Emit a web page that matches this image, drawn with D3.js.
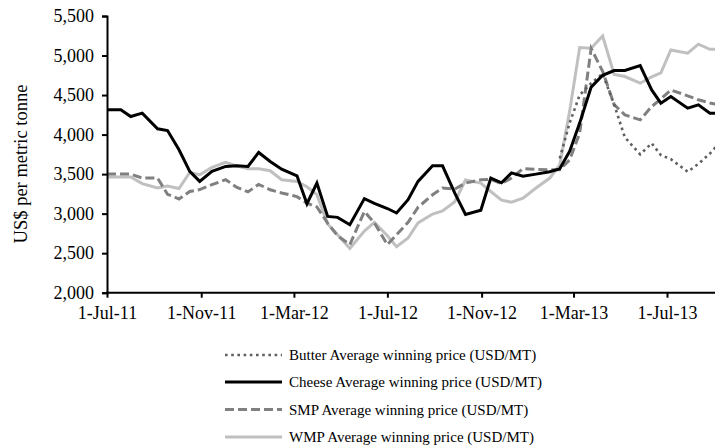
<!DOCTYPE html>
<html>
<head>
<meta charset="utf-8">
<script src="https://cdn.jsdelivr.net/npm/d3@7"></script>
<style>
  html, body { margin: 0; padding: 0; background: #fff; }
  svg { display: block; }
  text { font-family: "Liberation Serif", "Times New Roman", serif; fill: #000; }
</style>
</head>
<body>
<svg id="chart" width="715" height="446"></svg>
<script>
const dates = [
  "2011-07-01","2011-07-19","2011-08-01","2011-08-16","2011-09-05","2011-09-18","2011-10-03","2011-10-17","2011-10-30","2011-11-15",
  "2011-12-03","2011-12-17","2012-01-01","2012-01-15","2012-01-30","2012-02-14","2012-03-05","2012-03-18","2012-03-31","2012-04-14",
  "2012-04-27","2012-05-13","2012-06-01","2012-06-14","2012-07-01","2012-07-13","2012-07-28","2012-08-10","2012-08-29","2012-09-11",
  "2012-09-27","2012-10-11","2012-10-31","2012-11-13","2012-11-27","2012-12-10","2012-12-25","2013-01-11","2013-01-29","2013-02-11",
  "2013-02-24","2013-03-09","2013-03-24","2013-04-08","2013-04-23","2013-05-07","2013-05-27","2013-06-11","2013-06-23","2013-07-06",
  "2013-07-28","2013-08-11","2013-08-26","2013-09-08"
];
const butter = [
  null,null,null,null,null,null,null,null,null,null,
  null,null,null,null,null,null,null,null,null,null,
  null,null,null,null,null,null,null,null,null,null,
  null,null,null,null,null,null,null,null,null,3700,
  4150,4500,4650,4770,4380,3965,3750,3890,3740,3690,
  3530,3630,3760,3900
];
const cheese = [
  4313,4313,4228,4271,4073,4051,3808,3534,3408,3534,
  3597,3605,3597,3774,3660,3563,3479,3125,3386,2965,
  2953,2860,3190,3130,3065,3008,3176,3408,3605,3605,
  3260,2990,3043,3450,3390,3516,3474,3500,3530,3567,
  3790,4145,4600,4750,4810,4810,4872,4565,4397,4481,
  4334,4376,4271,4271
];
const smp = [
  3500,3500,3500,3450,3450,3245,3185,3280,3305,3366,
  3430,3335,3275,3370,3302,3262,3215,3133,3085,2880,
  2720,2608,3029,2882,2608,2734,2890,3080,3239,3324,
  3311,3387,3429,3433,3380,3450,3570,3560,3555,3555,
  3681,4018,5090,4800,4380,4250,4187,4355,4450,4565,
  4490,4440,4400,4376
];
const wmp = [
  3465,3465,3465,3380,3324,3350,3318,3521,3492,3585,
  3650,3605,3568,3568,3543,3429,3408,3340,3240,2870,
  2734,2560,2780,2890,2720,2582,2692,2882,2995,3035,
  3150,3425,3387,3280,3170,3145,3197,3324,3450,3618,
  4300,5100,5092,5247,4760,4734,4650,4730,4780,5071,
  5029,5143,5079,5079
];
const seriesNames = [
  "Butter Average winning price (USD/MT)",
  "Cheese Average winning price (USD/MT)",
  "SMP Average winning price (USD/MT)",
  "WMP Average winning price (USD/MT)"
];
const yTicks = [2000,2500,3000,3500,4000,4500,5000,5500];
const xTickLabels = ["1-Jul-11","1-Nov-11","1-Mar-12","1-Jul-12","1-Nov-12","1-Mar-13","1-Jul-13"];
const yTitle = "US$ per metric tonne";

(function () {
const parse = d3.timeParse("%Y-%m-%d");
const fmtTick = d3.timeFormat("%-d-%b-%y");
const parseTick = d3.timeParse("%-d-%b-%y");

const svg = d3.select("#chart");
const pLeft = 107, pTop = 16, pBottom = 292.7;

const x = d3.scaleTime()
  .domain([parse("2011-07-01"), parse("2013-07-01")])
  .range([pLeft, 667]);
const y = d3.scaleLinear().domain([2000, 5500]).range([pBottom, pTop]);

const styles = [
  {values: butter, color: "#5f5f5f", width: 2.6, dash: "2.6,3.6"},
  {values: cheese, color: "#000000", width: 3, dash: null},
  {values: smp, color: "#808080", width: 3, dash: "9,4"},
  {values: wmp, color: "#c0c0c0", width: 3, dash: null}
];

svg.append("clipPath").attr("id", "plotclip")
  .append("rect").attr("x", pLeft).attr("y", 0).attr("width", 720 - pLeft).attr("height", 300);

const plot = svg.append("g").attr("clip-path", "url(#plotclip)");
const drawOrder = [3, 2, 0, 1];
drawOrder.forEach(i => {
  const s = styles[i];
  const data = dates.map((d, k) => ({date: parse(d), v: s.values[k]}));
  const line = d3.line()
    .defined(d => d.v != null)
    .x(d => x(d.date)).y(d => y(d.v));
  plot.append("path")
    .datum(data)
    .attr("d", line)
    .attr("fill", "none")
    .attr("stroke", s.color)
    .attr("stroke-width", s.width)
    .attr("stroke-dasharray", s.dash)
    .attr("stroke-linejoin", "miter");
});

// Y axis
const yAxis = d3.axisLeft(y).tickValues(yTicks).tickFormat(d3.format(",")).tickSizeOuter(0).tickSize(5).tickPadding(8);
const gy = svg.append("g").attr("transform", `translate(${pLeft},0)`).call(yAxis);
gy.select(".domain").attr("stroke", "#000").attr("stroke-width", 2);
gy.selectAll(".tick line").attr("stroke", "#000").attr("stroke-width", 2);
gy.selectAll(".tick text").attr("font-size", 18).attr("font-family", "Liberation Serif").attr("fill", "#000");

// X axis
const xAxis = d3.axisBottom(x)
  .tickValues(xTickLabels.map(t => parseTick(t)))
  .tickFormat(fmtTick).tickSize(5).tickSizeOuter(0).tickPadding(9);
const gx = svg.append("g").attr("transform", `translate(0,${pBottom})`).call(xAxis);
gx.select(".domain").remove();
gx.append("line").attr("x1", pLeft - 1).attr("x2", 715).attr("y1", 0).attr("y2", 0)
  .attr("stroke", "#000").attr("stroke-width", 2);
gx.selectAll(".tick line").attr("stroke", "#000").attr("stroke-width", 2);
gx.selectAll(".tick text").attr("font-size", 18).attr("font-family", "Liberation Serif").attr("fill", "#000");

// Y title
svg.append("text")
  .attr("transform", `translate(27,164) rotate(-90)`)
  .attr("text-anchor", "middle")
  .attr("font-size", 18.5)
  .text(yTitle);

// Legend
const legY = [355, 382, 409.5, 437];
const legend = svg.append("g");
styles.forEach((s, i) => {
  legend.append("line")
    .attr("x1", 225).attr("x2", 282)
    .attr("y1", legY[i]).attr("y2", legY[i])
    .attr("stroke", s.color).attr("stroke-width", s.width)
    .attr("stroke-dasharray", s.dash);
  legend.append("text")
    .attr("x", 289).attr("y", legY[i] + 5)
    .attr("font-size", 15)
    .text(seriesNames[i]);
});
})();
</script>
</body>
</html>
